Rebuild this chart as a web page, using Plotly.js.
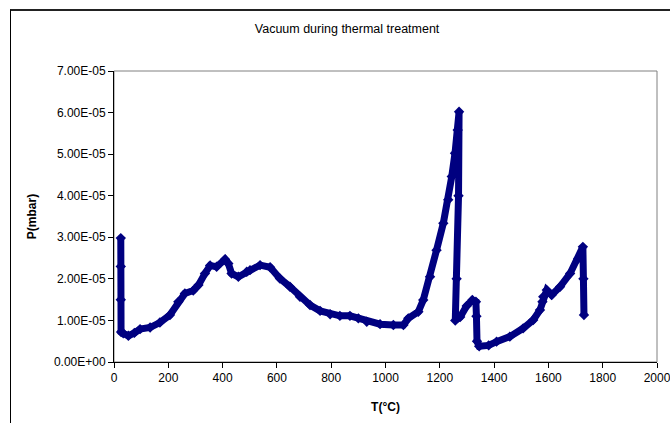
<!DOCTYPE html>
<html>
<head>
<meta charset="utf-8">
<script src="https://cdn.plot.ly/plotly-3.0.1.min.js"></script>
<style>
  html, body { margin: 0; padding: 0; background: #fff; }
  #wrap { position: relative; width: 670px; height: 423px; overflow: hidden; }
  #chart { position: absolute; left: 0; top: 0; width: 670px; height: 423px; }
  #frame { position: absolute; left: 10px; top: 9px; width: 700px; height: 500px;
           border-left: 1px solid #000; border-top: 2px solid #222; pointer-events: none; }
</style>
</head>
<body>
<div id="wrap">
  <div id="chart"></div>
  <div id="frame"></div>
</div>
<script>
// Temperature (°C) along the run
const temperature = [
  25, 25, 25, 26, 34, 53, 75, 96, 133, 169, 206, 237, 261, 292, 311, 335, 354, 378,
  409, 421, 433, 458, 489, 501, 538, 575, 611, 648, 685, 722, 759, 796, 832, 869,
  900, 931, 980, 1029, 1066, 1084, 1121, 1139, 1164, 1188, 1213, 1231, 1244, 1256,
  1266, 1271, 1269, 1262, 1257, 1275, 1299, 1320, 1333, 1335, 1337, 1345, 1380,
  1409, 1458, 1507, 1544, 1569, 1578, 1581, 1594, 1612, 1643, 1680, 1710, 1727,
  1729, 1731
];
// Pressure (mbar)
const pressure = [
  2.98e-5, 2.3e-5, 1.5e-5, 0.72e-5, 0.69e-5, 0.63e-5, 0.70e-5, 0.79e-5, 0.83e-5, 0.95e-5,
  1.13e-5, 1.45e-5, 1.65e-5, 1.72e-5, 1.85e-5, 2.13e-5, 2.32e-5, 2.29e-5, 2.47e-5,
  2.37e-5, 2.13e-5, 2.05e-5, 2.17e-5, 2.21e-5, 2.33e-5, 2.28e-5, 2.01e-5, 1.81e-5,
  1.57e-5, 1.37e-5, 1.23e-5, 1.15e-5, 1.11e-5, 1.11e-5, 1.05e-5, 0.97e-5, 0.91e-5,
  0.89e-5, 0.89e-5, 1.05e-5, 1.21e-5, 1.49e-5, 2.05e-5, 2.69e-5, 3.34e-5, 3.90e-5,
  4.46e-5, 5.02e-5, 5.58e-5, 6.02e-5, 4.0e-5, 2.0e-5, 1.0e-5, 1.08e-5, 1.35e-5, 1.49e-5,
  1.45e-5, 1.1e-5, 0.5e-5, 0.38e-5, 0.40e-5, 0.49e-5, 0.61e-5, 0.81e-5, 1.01e-5, 1.25e-5,
  1.45e-5, 1.57e-5, 1.73e-5, 1.61e-5, 1.81e-5, 2.13e-5, 2.49e-5, 2.77e-5, 2.0e-5, 1.13e-5
];
const yTickVals = [0, 1e-5, 2e-5, 3e-5, 4e-5, 5e-5, 6e-5, 7e-5];
const yTickText = ["0.00E+00", "1.00E-05", "2.00E-05", "3.00E-05", "4.00E-05", "5.00E-05", "6.00E-05", "7.00E-05"];
const xTickVals = [0, 200, 400, 600, 800, 1000, 1200, 1400, 1600, 1800, 2000];

const navy = '#000080';
const font = 'Arial, "Liberation Sans", sans-serif';

const trace = {
  x: temperature,
  y: pressure,
  type: 'scatter',
  mode: 'lines+markers',
  line: { color: navy, width: 7 },
  marker: { symbol: 'diamond', size: 8, color: navy },
  hoverinfo: 'none'
};

const layout = {
  width: 670,
  height: 423,
  margin: { l: 114, r: 13, t: 71, b: 61 },
  paper_bgcolor: '#fff',
  plot_bgcolor: '#fff',
  showlegend: false,
  font: { family: font, size: 12, color: '#000' },
  title: {
    text: 'Vacuum during thermal treatment',
    font: { family: font, size: 12.5, color: '#000' },
    x: 0.518, xanchor: 'center',
    y: 1 - 29 / 423, yanchor: 'middle', yref: 'container'
  },
  xaxis: {
    range: [0, 2000],
    tickvals: xTickVals,
    ticktext: xTickVals.map(String),
    ticklabeloverflow: 'allow',
    showgrid: false, zeroline: false,
    showline: true, linecolor: '#000', linewidth: 1,
    ticks: 'outside', ticklen: 5, tickcolor: '#000', tickwidth: 1,
    tickfont: { family: font, size: 12, color: '#000' },
    title: { text: '<b>T(°C)</b>', font: { family: font, size: 12, color: '#000' }, standoff: 18 }
  },
  yaxis: {
    range: [0, 7e-5],
    tickvals: yTickVals,
    ticktext: yTickText,
    showgrid: false, zeroline: false,
    showline: true, linecolor: '#000', linewidth: 1,
    ticks: 'outside', ticklen: 5, tickcolor: '#000', tickwidth: 1,
    tickfont: { family: font, size: 12, color: '#000' },
    title: { text: '<b>P(mbar)</b>', font: { family: font, size: 12, color: '#000' }, standoff: 14 }
  },
  shapes: [
    { type: 'rect', xref: 'paper', yref: 'paper', x0: 0, x1: 1, y0: 0, y1: 1,
      line: { color: '#808080', width: 1 }, layer: 'below' }
  ]
};

Plotly.newPlot('chart', [trace], layout, { staticPlot: true, displayModeBar: false });
</script>
</body>
</html>
